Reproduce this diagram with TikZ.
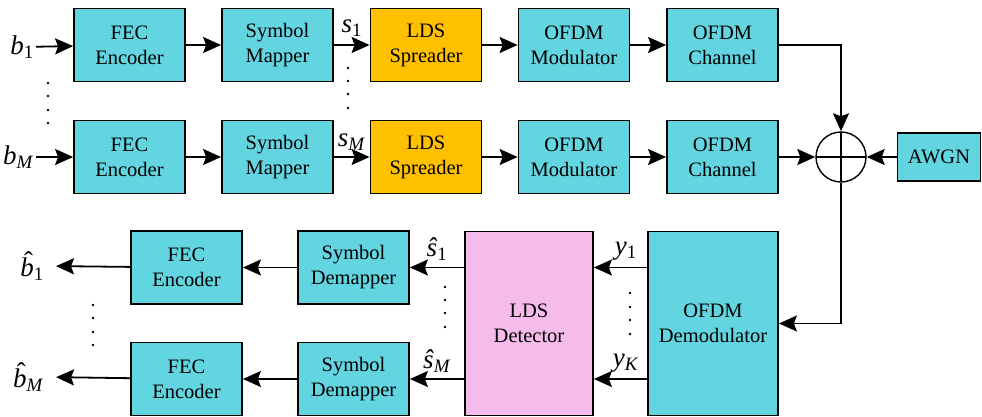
\documentclass[tikz,border=0pt]{standalone}
\usepackage{fontspec}
\setmainfont{Liberation Serif}
\usetikzlibrary{arrows.meta}
\definecolor{boxcyan}{RGB}{99,213,225}
\definecolor{boxorange}{RGB}{255,192,0}
\definecolor{boxpink}{RGB}{245,187,235}
\newcommand{\sig}[2]{\textit{#1}\textsubscript{#2}}
\newcommand{\hatb}{\makebox[0pt][l]{\hspace{0.14em}\raisebox{0.24em}{ˆ}}\textit{b}}

\begin{document}
\begin{tikzpicture}[x=1pt,y=-1pt,
    blk/.style={draw,line width=1.8pt,fill=boxcyan,minimum width=111pt,minimum height=73pt,
      align=center,inner sep=0pt,font=\fontsize{20.5}{25}\selectfont},
    lbl/.style={inner sep=2pt,font=\fontsize{27}{30}\selectfont},
    arr/.style={line width=1.8pt,-{Stealth[length=18pt,width=16pt,inset=3pt]}}]
    \useasboundingbox (0,0) rectangle (982,417);
    % transmitters
    \node[blk] (enc1) at (129.5,45) {FEC\\Encoder};
    \node[blk] (map1) at (277.5,45) {Symbol\\Mapper};
    \node[blk,fill=boxorange] (spr1) at (426,45) {LDS\\Spreader};
    \node[blk] (mod1) at (574,45) {OFDM\\Modulator};
    \node[blk] (chn1) at (722.5,45) {OFDM\\Channel};
    \node[blk] (enc2) at (129.5,157) {FEC\\Encoder};
    \node[blk] (map2) at (277.5,157) {Symbol\\Mapper};
    \node[blk,fill=boxorange] (spr2) at (426,157) {LDS\\Spreader};
    \node[blk] (mod2) at (574,157) {OFDM\\Modulator};
    \node[blk] (chn2) at (722.5,157) {OFDM\\Channel};
    % adder and noise
    \node[draw,circle,line width=1.4pt,minimum size=50pt,inner sep=0pt,
      path picture={\draw[line width=1.4pt] (path picture bounding box.north) -- (path picture bounding box.south)
        (path picture bounding box.west) -- (path picture bounding box.east);}] (sum) at (841,157) {};
    \node[blk,minimum width=83pt,minimum height=48pt] (awgn) at (939,157) {AWGN};
    % receiver
    \node[blk,minimum width=130pt,minimum height=184pt] (demod) at (713,323.5) {OFDM\\Demodulator};
    \node[blk,fill=boxpink,minimum width=128pt,minimum height=184pt] (det) at (529,323.5) {LDS\\Detector};
    \node[blk] (dmap1) at (353.5,267.5) {Symbol\\Demapper};
    \node[blk] (dmap2) at (353.5,379) {Symbol\\Demapper};
    \node[blk] (dec1) at (186.5,267.5) {FEC\\Encoder};
    \node[blk] (dec2) at (186.5,379) {FEC\\Encoder};
    % bit labels
    \node[lbl,anchor=east] (b1) at (36,47) {\sig{b}{1}};
    \node[lbl,anchor=east] (bM) at (36,157) {\sig{b}{\textit{M}}};
    \node[lbl,anchor=east] (bh1) at (46,266) {\hatb\textsubscript{1}};
    \node[lbl,anchor=east] (bhM) at (46,377) {\hatb\textsubscript{\textit{M}}};

    \draw[arr] (b1) -- (enc1);
    \draw[arr] (enc1) -- (map1);
    \draw[arr] (map1) -- node[lbl,above,yshift=6pt] {\sig{s}{1}} (spr1);
    \draw[arr] (spr1) -- (mod1);
    \draw[arr] (mod1) -- (chn1);
    \draw[arr] (bM) -- (enc2);
    \draw[arr] (enc2) -- (map2);
    \draw[arr] (map2) -- node[lbl,above,yshift=4pt] {\sig{s}{\textit{M}}} (spr2);
    \draw[arr] (spr2) -- (mod2);
    \draw[arr] (mod2) -- (chn2);
    \draw[arr] (chn1) -| (sum);
    \draw[arr] (chn2) -- (sum);
    \draw[arr] (awgn) -- (sum);
    \draw[arr] (sum) |- (demod);
    \draw[arr] (demod.west |- dmap1) -- node[lbl,above,pos=0.4,yshift=4pt] {\sig{y}{1}} (det.east |- dmap1);
    \draw[arr] (demod.west |- dmap2) -- node[lbl,above,pos=0.4,yshift=4pt] {\sig{y}{\textit{K}}} (det.east |- dmap2);
    \draw[arr] (det.west |- dmap1) -- node[lbl,above,yshift=4pt] {\sig{ŝ}{1}} (dmap1);
    \draw[arr] (det.west |- dmap2) -- node[lbl,above,yshift=4pt] {\sig{ŝ}{\textit{M}}} (dmap2);
    \draw[arr] (dmap1) -- (dec1);
    \draw[arr] (dmap2) -- (dec2);
    \draw[arr,shorten >=10pt] (dec1) -- (bh1.east);
    \draw[arr,shorten >=10pt] (dec2) -- (bhM.east);
    % dots
    \foreach \y in {83,96,110,123} \fill (48,\y) circle (1.3);
    \foreach \y in {68,81,94,108} \fill (348,\y) circle (1.3);
    \foreach \y in {305,318,332,345} \fill (93,\y) circle (1.3);
    \foreach \y in {287,300,313,327} \fill (445,\y) circle (1.3);
    \foreach \y in {293,307,320,334} \fill (630,\y) circle (1.3);
\end{tikzpicture}
\end{document}
